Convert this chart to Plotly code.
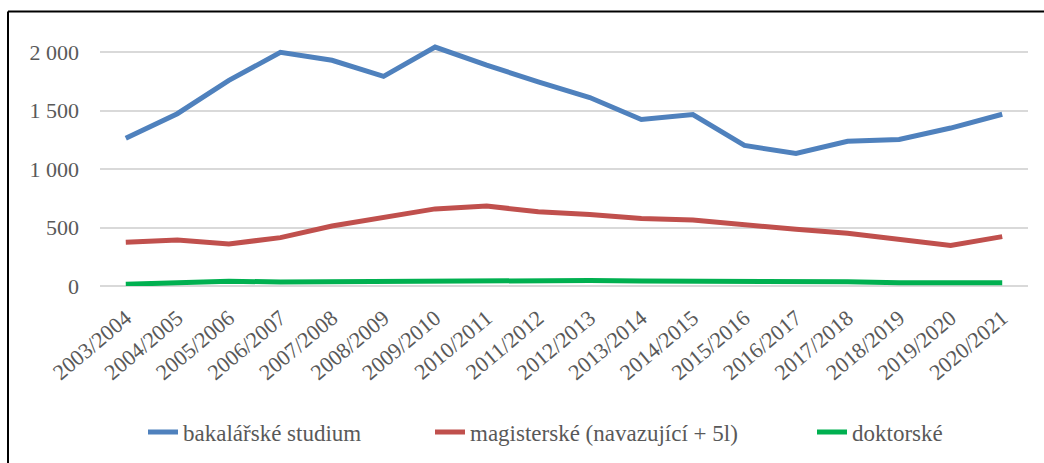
import plotly.graph_objects as go

years = ["2003/2004", "2004/2005", "2005/2006", "2006/2007", "2007/2008", "2008/2009",
         "2009/2010", "2010/2011", "2011/2012", "2012/2013", "2013/2014", "2014/2015",
         "2015/2016", "2016/2017", "2017/2018", "2018/2019", "2019/2020", "2020/2021"]
bakalarske = [1265, 1475, 1760, 2000, 1932, 1795, 2045, 1890, 1748, 1613, 1425, 1467,
              1203, 1134, 1239, 1254, 1352, 1470]
magisterske = [375, 393, 360, 414, 514, 589, 660, 685, 635, 613, 578, 564,
               522, 486, 452, 400, 346, 423]
doktorske = [15, 30, 40, 35, 38, 38, 40, 45, 47, 47, 42, 42, 40, 38, 37, 28, 28, 28]

names = ["bakalářské studium", "magisterské (navazující + 5l)", "doktorské"]
colors = ["#4F81BD", "#C0504D", "#00B050"]
legend_ids = ["legend", "legend2", "legend3"]
legend_px = [143, 430, 812]

W, H = 1044, 463
L, R, T, B = 100, 16, 28.6, 177
pw, ph = W - L - R, H - T - B
font = "Liberation Serif"
gray = "#595959"

fig = go.Figure()
for name, vals, col, lid in zip(names, [bakalarske, magisterske, doktorske], colors, legend_ids):
    fig.add_trace(go.Scatter(x=years, y=vals, name=name, mode="lines", legend=lid,
                             line=dict(color=col, width=5)))

legend_common = dict(orientation="h", xanchor="left", xref="container",
                     y=1 - 432 / H, yanchor="middle", yref="container",
                     bgcolor="rgba(0,0,0,0)",
                     font=dict(family=font, size=23, color=gray))
layout_legends = {lid: dict(x=px / W, **legend_common) for lid, px in zip(legend_ids, legend_px)}

fig.update_layout(
    width=W, height=H,
    margin=dict(l=L, r=R, t=T, b=B, autoexpand=False),
    paper_bgcolor="white", plot_bgcolor="white",
    separators=", ",
    font=dict(family=font, color=gray, size=22),
    showlegend=True,
    xaxis=dict(type="category", tickangle=-40, showgrid=False, showline=False,
               ticks="", automargin=False, ticklabelstandoff=14,
               tickfont=dict(family=font, size=22, color=gray),
               range=[-0.5, len(years) - 0.5]),
    yaxis=dict(range=[0, 2200], tickvals=[0, 500, 1000, 1500, 2000], tickformat=",d",
               showgrid=True, gridcolor="#D9D9D9", gridwidth=1.5, zeroline=True,
               zerolinecolor="#D9D9D9", zerolinewidth=1.5, showline=False, ticks="",
               ticklabelstandoff=20, automargin=False,
               tickfont=dict(family=font, size=22, color=gray)),
    **layout_legends,
)

# outer frame (left and top edges visible in the reference)
x_left = (8 - L) / pw
y_top = (H - B - 11) / ph
fig.add_shape(type="line", xref="paper", yref="paper", x0=x_left, x1=x_left,
              y0=y_top, y1=(H - B - 480) / ph, line=dict(color="black", width=2))
fig.add_shape(type="line", xref="paper", yref="paper", x0=x_left, x1=(1060 - L) / pw,
              y0=y_top, y1=y_top, line=dict(color="black", width=2))

fig.write_html("out.html", config={"displayModeBar": False},
               post_script="document.body.style.margin='0';")
